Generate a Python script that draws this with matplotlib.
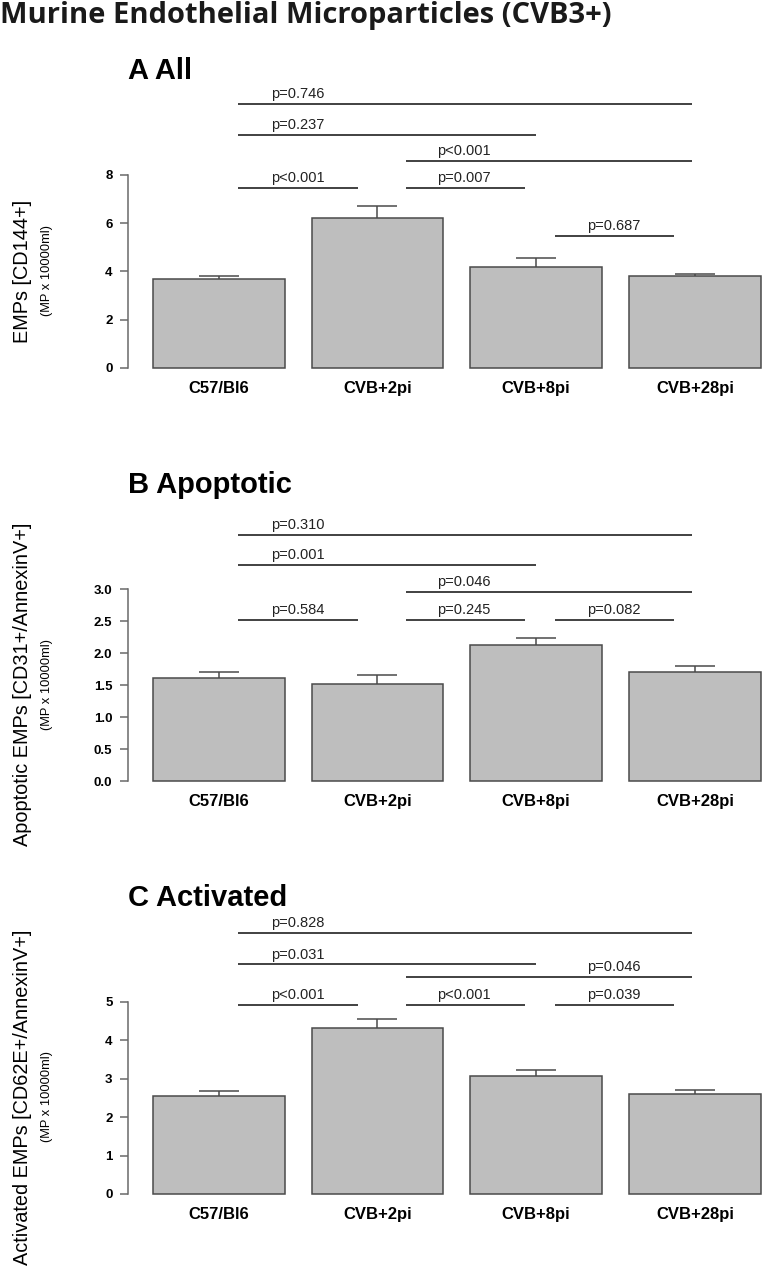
import matplotlib
matplotlib.use("Agg")
import matplotlib.pyplot as plt
import numpy as np

plt.rcParams['font.family'] = ['Liberation Sans', 'DejaVu Sans']

# ==== data
categories = ["C57/Bl6", "CVB+2pi", "CVB+8pi", "CVB+28pi"]

all_mean = [3.70, 6.20, 4.19, 3.81]
all_err = [0.11, 0.50, 0.35, 0.10]

apo_mean = [1.61, 1.52, 2.13, 1.71]
apo_err = [0.10, 0.14, 0.10, 0.09]

act_mean = [2.54, 4.33, 3.07, 2.60]
act_err = [0.13, 0.23, 0.17, 0.11]

# p-value bars: (x start, x end, y, label, label x)
all_pvals = [
    (0.12, 2.985, 10.95, "p=0.746", 0.5),
    (0.12, 2.0, 9.66, "p=0.237", 0.5),
    (1.18, 2.985, 8.58, "p<0.001", 1.545),
    (0.12, 0.88, 7.45, "p<0.001", 0.5),
    (1.18, 1.93, 7.45, "p=0.007", 1.545),
    (2.12, 2.87, 5.48, "p=0.687", 2.49),
]
apo_pvals = [
    (0.12, 2.985, 3.85, "p=0.310", 0.5),
    (0.12, 2.0, 3.37, "p=0.001", 0.5),
    (1.18, 2.985, 2.96, "p=0.046", 1.545),
    (0.12, 0.88, 2.52, "p=0.584", 0.5),
    (1.18, 1.93, 2.52, "p=0.245", 1.545),
    (2.12, 2.87, 2.52, "p=0.082", 2.49),
]
act_pvals = [
    (0.12, 2.985, 6.79, "p=0.828", 0.5),
    (0.12, 2.0, 5.98, "p=0.031", 0.5),
    (1.18, 2.985, 5.65, "p=0.046", 2.49),
    (0.12, 0.88, 4.92, "p<0.001", 0.5),
    (1.18, 1.93, 4.92, "p<0.001", 1.545),
    (2.12, 2.87, 4.92, "p=0.039", 2.49),
]

all_ticks = [0, 2, 4, 6, 8]
apo_ticks = [0.0, 0.5, 1.0, 1.5, 2.0, 2.5, 3.0]
act_ticks = [0, 1, 2, 3, 4, 5]

W, H = 762, 1268
fig = plt.figure(figsize=(W / 100, H / 100), dpi=100)

BAR_FC = "#bebebe"
BAR_EC = "#4a4a4a"
AX_C = "#6a6a6a"


def px_rect(left, top, right, bottom):
    return [left / W, 1 - bottom / H, (right - left) / W, (bottom - top) / H]


def panel(top, bottom, px_per_unit, mean, err, pvals, ticks, fmt,
          title, title_base, ylab, ylab_y):
    ax = fig.add_axes(px_rect(127.7, top, W, bottom))
    x = np.arange(len(categories))
    ax.set_xlim(-0.574, 3.423)
    ax.set_ylim(0, (bottom - top) / px_per_unit)

    ax.bar(x, mean, width=0.831, color=BAR_FC, edgecolor=BAR_EC, linewidth=1.1,
           clip_on=False, zorder=2)
    top_err = np.array(mean) + np.array(err)
    ax.vlines(x, mean, top_err, color=BAR_EC, linewidth=1.1, zorder=1)
    ax.hlines(top_err, x - 0.126, x + 0.126, color=BAR_EC, linewidth=1.1, zorder=1)

    for x0, x1, y, lab, lx in pvals:
        ax.hlines(y, x0, x1, color="#333333", linewidth=1.3, clip_on=False)
        ax.annotate(lab, xy=(lx, y), xytext=(0, 4.2), textcoords="offset points",
                    ha="center", va="baseline", fontsize=10.5, color="#222222")

    for s in ["top", "right", "bottom"]:
        ax.spines[s].set_visible(False)
    ax.spines["left"].set_bounds(ticks[0], ticks[-1])
    ax.spines["left"].set_color(AX_C)
    ax.spines["left"].set_linewidth(1.1)
    ax.set_yticks(ticks)
    ax.set_yticklabels([fmt.format(t) for t in ticks], fontweight="bold", fontsize=9.5)
    ax.tick_params(axis="y", length=5.8, width=1.1, color=AX_C, pad=5.2)
    ax.set_xticks(x)
    ax.set_xticklabels(categories, fontweight="bold", fontsize=12)
    ax.tick_params(axis="x", length=0, pad=9.5)
    ax.patch.set_visible(False)

    fig.text(128 / W, 1 - title_base / H, title, fontsize=21, fontweight="bold",
             ha="left", va="baseline")
    fig.text(23 / W, 1 - ylab_y / H, ylab, fontsize=14.3, rotation=90,
             ha="center", va="center")
    fig.text(47 / W, 1 - ylab_y / H, "(MP x 10000ml)", fontsize=9.3, rotation=90,
             ha="center", va="center")
    return ax


fig.text(0, 1 - 23.5 / H, "Murine Endothelial Microparticles (CVB3+)",
         fontsize=21, fontweight="bold", family=["Open Sans", "DejaVu Sans"],
         ha="left", va="baseline", color="#1a1a1a")

panel(80, 367.7, 24.09, all_mean, all_err, all_pvals, all_ticks, "{:.0f}",
      "A All", 79, "EMPs [CD144+]", 271)
panel(505, 781, 64.0, apo_mean, apo_err, apo_pvals, apo_ticks, "{:.1f}",
      "B Apoptotic", 492.7, "Apoptotic EMPs [CD31+/AnnexinV+]", 684)
panel(912, 1194, 38.4, act_mean, act_err, act_pvals, act_ticks, "{:.0f}",
      "C Activated", 906, "Activated EMPs [CD62E+/AnnexinV+]", 1097)

fig.savefig("out.png", dpi=100)
